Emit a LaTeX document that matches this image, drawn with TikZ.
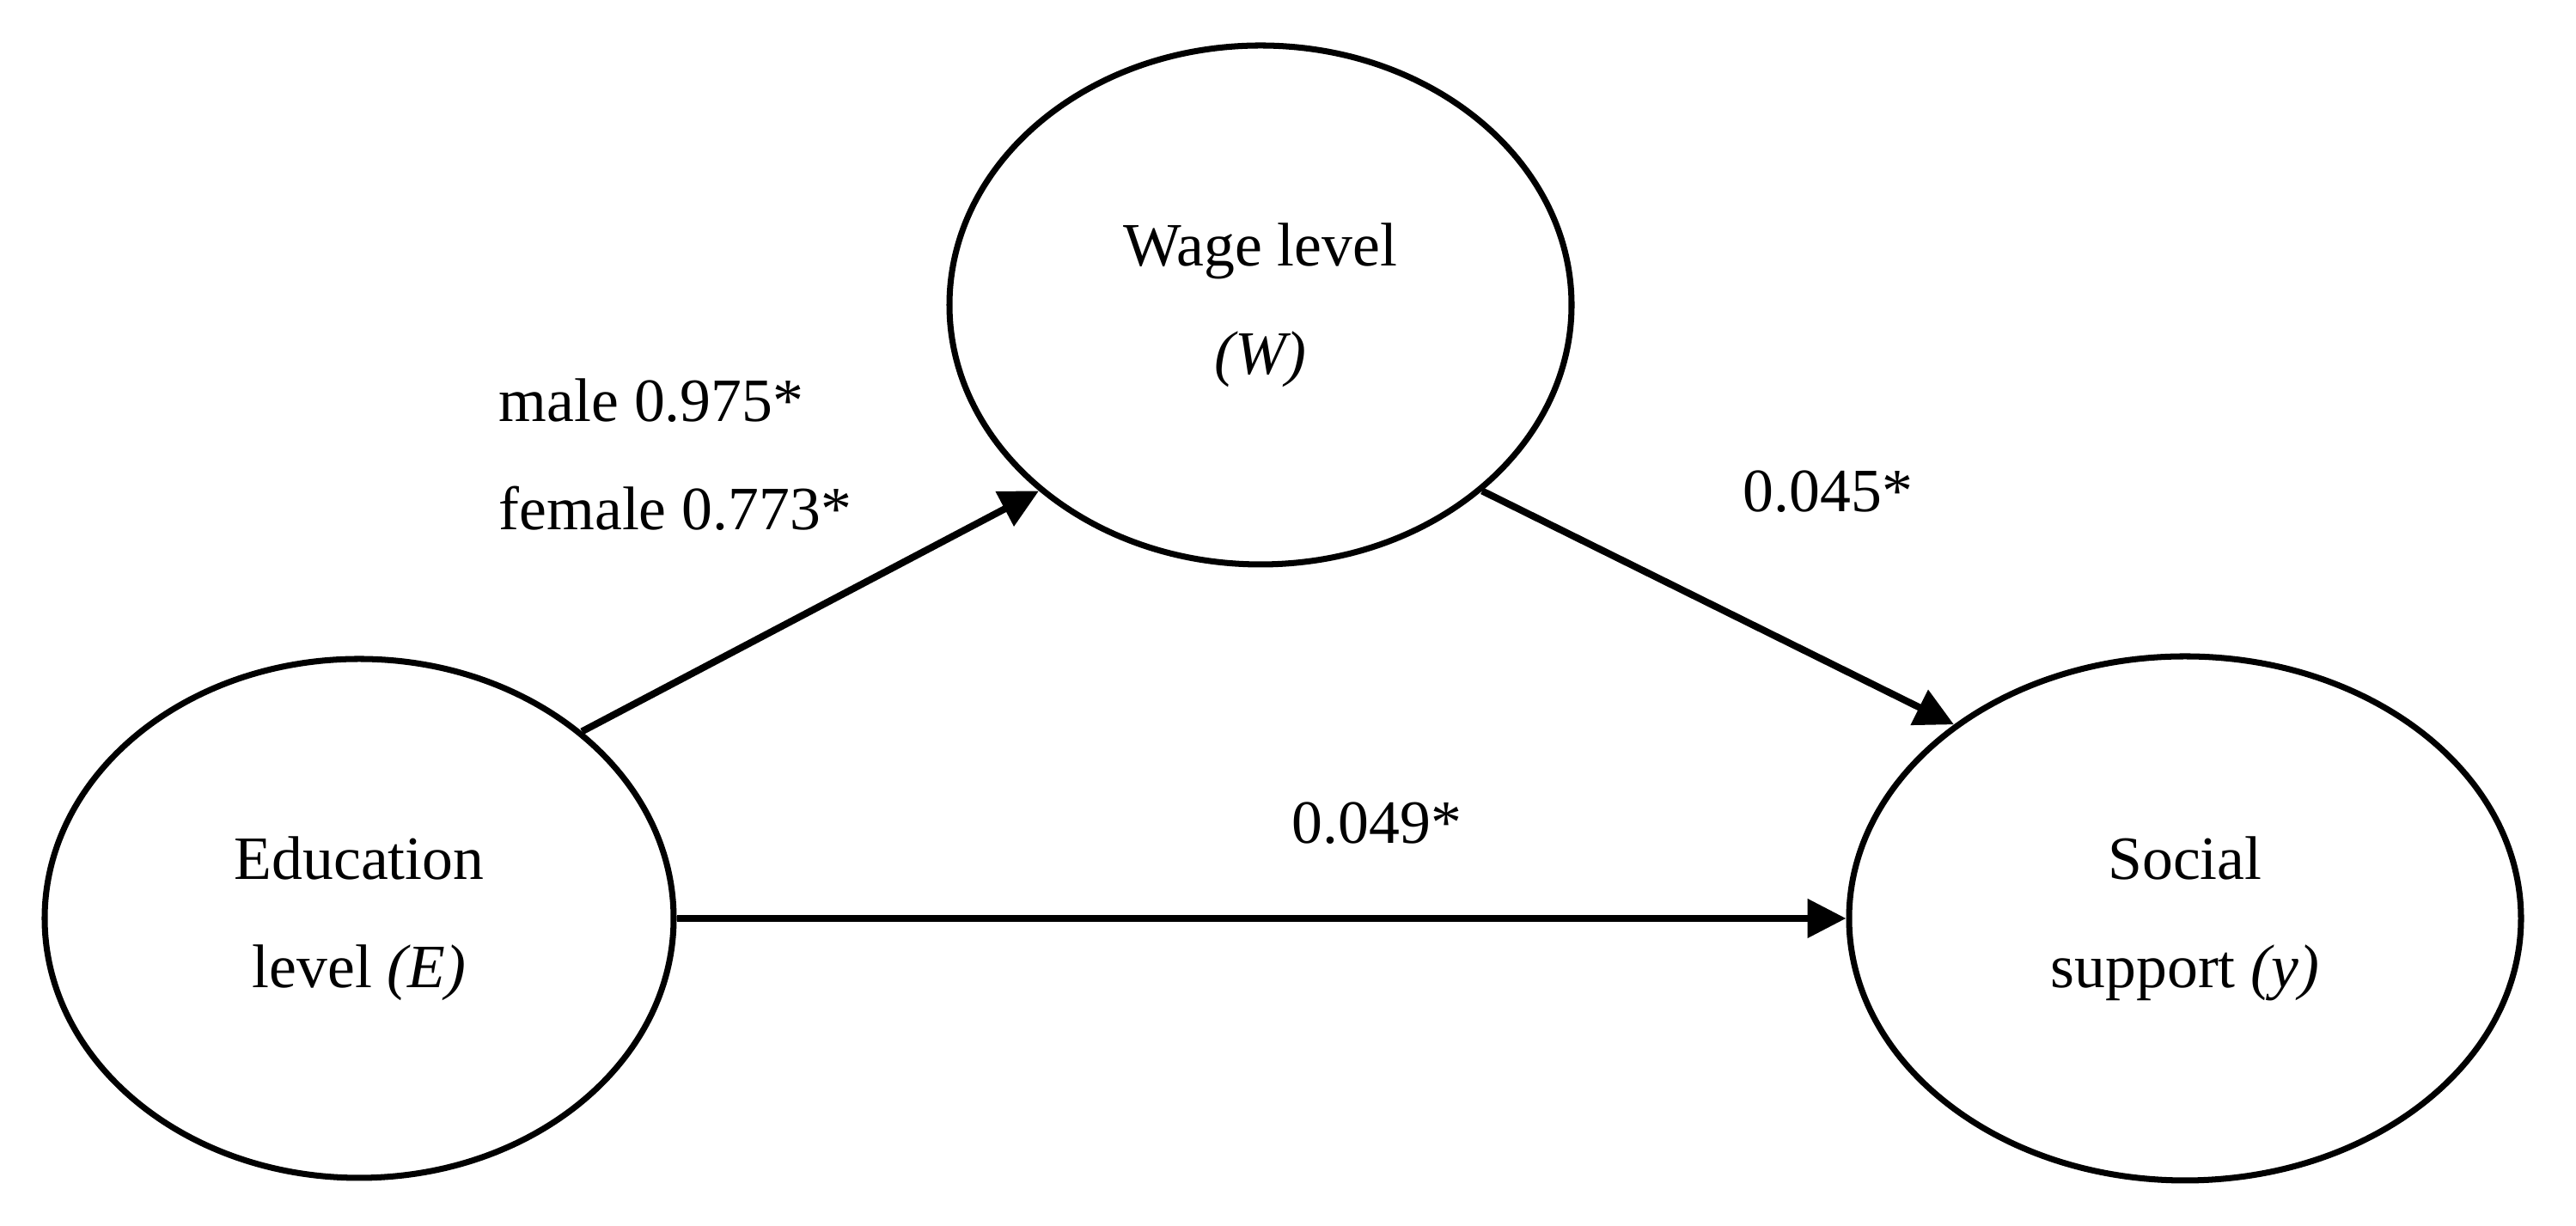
\documentclass[tikz,border=0pt]{standalone}
\usepackage{fontspec}
\setmainfont{Liberation Serif}
\usetikzlibrary{shapes.geometric,arrows.meta}

\tikzset{
  var/.style={draw, ellipse, line width=2pt, inner sep=0pt, align=center},
  effect/.style={line width=2.3pt, -{Triangle[length=0.45cm,width=0.44cm]}},
  coef/.style={anchor=base west, inner sep=0pt}
}

\begin{document}
\begin{tikzpicture}[font=\fontsize{20.4}{35.8}\selectfont]
	\useasboundingbox (0,0) rectangle (29.98,14.27);

	% the three variables
	\node[var, minimum width=7.32cm, minimum height=6.04cm] (edu) at (4.18,3.58) {Education\\level \textit{(E)}};
	\node[var, minimum width=7.24cm, minimum height=6.04cm] (wage) at (14.67,10.72) {Wage level\\\textit{(W)}};
	\node[var, minimum width=7.82cm, minimum height=6.10cm] (social) at (25.43,3.58) {Social\\support \textit{(y)}};

	% paths
	\draw[effect] (edu.40) -- (wage.220);
	\draw[effect] (wage.320) -- (social.140);
	\draw[effect] (edu.east) -- (social.west);

	% coefficients
	\node[coef] (male) at (5.80,9.36) {male 0.975*};
	\node[coef] (female) at (5.80,8.10) {female 0.773*};
	\node[coef] (ws) at (20.28,8.31) {0.045*};
	\node[coef] (es) at (15.03,4.45) {0.049*};
\end{tikzpicture}
\end{document}
